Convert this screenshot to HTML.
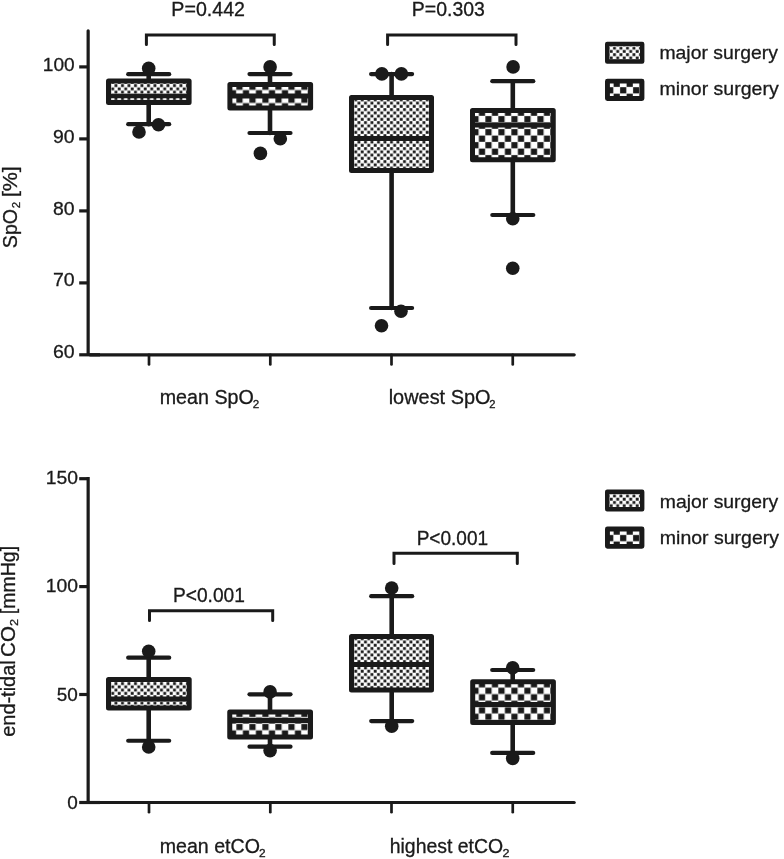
<!DOCTYPE html>
<html lang="en"><head><meta charset="utf-8"><title>Boxplots</title>
<style>html,body{margin:0;padding:0;background:#fff}svg{display:block}text{font-family:'Liberation Sans', Arial, Helvetica, sans-serif;fill:#1a1a1a;stroke:#1a1a1a;stroke-width:.3px}</style>
</head><body>
<svg width="784" height="859" viewBox="0 0 784 859">
<defs>
<pattern id="p1" patternUnits="userSpaceOnUse" x="114.350" y="84.000" width="6.5" height="6.5"><rect width="6.5" height="6.5" fill="#fff"/><rect x="0.19999999999999996" y="0.19999999999999996" width="2.85" height="2.85" fill="#1a1a1a"/><rect x="3.45" y="3.45" width="2.85" height="2.85" fill="#1a1a1a"/></pattern>
<pattern id="p2" patternUnits="userSpaceOnUse" x="236.250" y="83.500" width="13.0" height="13.0"><rect width="13.0" height="13.0" fill="#fff"/><rect x="0.1499999999999999" y="0.1499999999999999" width="6.2" height="6.2" fill="#1a1a1a"/><rect x="6.65" y="6.65" width="6.2" height="6.2" fill="#1a1a1a"/></pattern>
<pattern id="p3" patternUnits="userSpaceOnUse" x="357.345" y="101.475" width="6.5" height="6.5"><rect width="6.5" height="6.5" fill="#fff"/><rect x="0.19999999999999996" y="0.19999999999999996" width="2.85" height="2.85" fill="#1a1a1a"/><rect x="3.45" y="3.45" width="2.85" height="2.85" fill="#1a1a1a"/></pattern>
<pattern id="p4" patternUnits="userSpaceOnUse" x="485.250" y="128.950" width="13.0" height="13.0"><rect width="13.0" height="13.0" fill="#fff"/><rect x="0.1499999999999999" y="0.1499999999999999" width="6.2" height="6.2" fill="#1a1a1a"/><rect x="6.65" y="6.65" width="6.2" height="6.2" fill="#1a1a1a"/></pattern>
<pattern id="p5" patternUnits="userSpaceOnUse" x="612.850" y="46.550" width="6.5" height="6.5"><rect width="6.5" height="6.5" fill="#fff"/><rect x="0.19999999999999996" y="0.19999999999999996" width="2.85" height="2.85" fill="#1a1a1a"/><rect x="3.45" y="3.45" width="2.85" height="2.85" fill="#1a1a1a"/></pattern>
<pattern id="p6" patternUnits="userSpaceOnUse" x="619.950" y="87.050" width="13.0" height="13.0"><rect width="13.0" height="13.0" fill="#fff"/><rect x="0.1499999999999999" y="0.1499999999999999" width="6.2" height="6.2" fill="#1a1a1a"/><rect x="6.65" y="6.65" width="6.2" height="6.2" fill="#1a1a1a"/></pattern>
<pattern id="p7" patternUnits="userSpaceOnUse" x="114.350" y="681.975" width="6.5" height="6.5"><rect width="6.5" height="6.5" fill="#fff"/><rect x="0.19999999999999996" y="0.19999999999999996" width="2.85" height="2.85" fill="#1a1a1a"/><rect x="3.45" y="3.45" width="2.85" height="2.85" fill="#1a1a1a"/></pattern>
<pattern id="p8" patternUnits="userSpaceOnUse" x="236.250" y="710.750" width="13.0" height="13.0"><rect width="13.0" height="13.0" fill="#fff"/><rect x="0.1499999999999999" y="0.1499999999999999" width="6.2" height="6.2" fill="#1a1a1a"/><rect x="6.65" y="6.65" width="6.2" height="6.2" fill="#1a1a1a"/></pattern>
<pattern id="p9" patternUnits="userSpaceOnUse" x="357.345" y="640.375" width="6.5" height="6.5"><rect width="6.5" height="6.5" fill="#fff"/><rect x="0.19999999999999996" y="0.19999999999999996" width="2.85" height="2.85" fill="#1a1a1a"/><rect x="3.45" y="3.45" width="2.85" height="2.85" fill="#1a1a1a"/></pattern>
<pattern id="p10" patternUnits="userSpaceOnUse" x="485.250" y="687.550" width="13.0" height="13.0"><rect width="13.0" height="13.0" fill="#fff"/><rect x="0.1499999999999999" y="0.1499999999999999" width="6.2" height="6.2" fill="#1a1a1a"/><rect x="6.65" y="6.65" width="6.2" height="6.2" fill="#1a1a1a"/></pattern>
<pattern id="p11" patternUnits="userSpaceOnUse" x="612.850" y="494.350" width="6.5" height="6.5"><rect width="6.5" height="6.5" fill="#fff"/><rect x="0.19999999999999996" y="0.19999999999999996" width="2.85" height="2.85" fill="#1a1a1a"/><rect x="3.45" y="3.45" width="2.85" height="2.85" fill="#1a1a1a"/></pattern>
<pattern id="p12" patternUnits="userSpaceOnUse" x="619.950" y="534.850" width="13.0" height="13.0"><rect width="13.0" height="13.0" fill="#fff"/><rect x="0.1499999999999999" y="0.1499999999999999" width="6.2" height="6.2" fill="#1a1a1a"/><rect x="6.65" y="6.65" width="6.2" height="6.2" fill="#1a1a1a"/></pattern>
</defs>
<rect width="784" height="859" fill="#fff"/>
<g stroke="#1a1a1a" stroke-width="3.2" fill="none" stroke-linecap="butt">
<line x1="88.15" y1="30.8" x2="88.15" y2="353.4" stroke-linecap="round"/>
<line x1="79.2" y1="354.8" x2="100" y2="354.8"/>
<line x1="90" y1="354.8" x2="574.2" y2="354.8" stroke-linecap="round"/>
<line x1="79.2" y1="66.9" x2="88.15" y2="66.9"/>
<line x1="79.2" y1="138.9" x2="88.15" y2="138.9"/>
<line x1="79.2" y1="210.9" x2="88.15" y2="210.9"/>
<line x1="79.2" y1="282.9" x2="88.15" y2="282.9"/>
<line x1="149" y1="354.8" x2="149" y2="364.4" stroke-width="2.7" stroke-linecap="round"/>
<line x1="270.3" y1="354.8" x2="270.3" y2="364.4" stroke-width="2.7" stroke-linecap="round"/>
<line x1="391.5" y1="354.8" x2="391.5" y2="364.4" stroke-width="2.7" stroke-linecap="round"/>
<line x1="512.75" y1="354.8" x2="512.75" y2="364.4" stroke-width="2.7" stroke-linecap="round"/>
</g>
<text x="42.77" y="71.2" font-size="19" textLength="31.86" lengthAdjust="spacingAndGlyphs">100</text>
<text x="53.03" y="142.85000000000002" font-size="19" textLength="21.60" lengthAdjust="spacingAndGlyphs">90</text>
<text x="53.03" y="214.5" font-size="19" textLength="21.60" lengthAdjust="spacingAndGlyphs">80</text>
<text x="52.92" y="286.15000000000003" font-size="19" textLength="21.70" lengthAdjust="spacingAndGlyphs">70</text>
<text x="52.92" y="357.8" font-size="19" textLength="21.70" lengthAdjust="spacingAndGlyphs">60</text>
<g stroke="#1a1a1a" stroke-linecap="round" fill="none">
<line x1="148.7" y1="74.2" x2="148.7" y2="80.6" stroke-width="4.6"/>
<line x1="148.7" y1="103.1" x2="148.7" y2="124.2" stroke-width="4.6"/>
<line x1="128.2" y1="74.2" x2="169.2" y2="74.2" stroke-width="4.2"/>
<line x1="128.2" y1="124.2" x2="169.2" y2="124.2" stroke-width="4.2"/>
</g>
<rect x="108.5" y="81.1" width="80.60" height="21.50" fill="url(#p1)" stroke="#1a1a1a" stroke-width="5" stroke-linejoin="round"/>
<line x1="108.5" y1="95.95" x2="189.1" y2="95.95" stroke="#1a1a1a" stroke-width="4.4"/>
<circle cx="148.7" cy="68.4" r="6.8" fill="#1a1a1a"/>
<circle cx="139" cy="132" r="6.8" fill="#1a1a1a"/>
<circle cx="158.5" cy="124.7" r="6.8" fill="#1a1a1a"/>
<g stroke="#1a1a1a" stroke-linecap="round" fill="none">
<line x1="270" y1="74.1" x2="270" y2="83.9" stroke-width="4.6"/>
<line x1="270" y1="108.6" x2="270" y2="133" stroke-width="4.6"/>
<line x1="249.5" y1="74.1" x2="290.5" y2="74.1" stroke-width="4.2"/>
<line x1="249.5" y1="133" x2="290.5" y2="133" stroke-width="4.2"/>
</g>
<rect x="229.9" y="84.4" width="80.70" height="23.70" fill="url(#p2)" stroke="#1a1a1a" stroke-width="5" stroke-linejoin="round"/>
<line x1="229.9" y1="96.0" x2="310.6" y2="96.0" stroke="#1a1a1a" stroke-width="5.0"/>
<circle cx="270.1" cy="66.9" r="6.8" fill="#1a1a1a"/>
<circle cx="280.3" cy="138.75" r="6.8" fill="#1a1a1a"/>
<circle cx="260.4" cy="153.4" r="6.8" fill="#1a1a1a"/>
<g stroke="#1a1a1a" stroke-linecap="round" fill="none">
<line x1="391.6" y1="74.1" x2="391.6" y2="97" stroke-width="4.6"/>
<line x1="391.6" y1="171" x2="391.6" y2="308" stroke-width="4.6"/>
<line x1="371.1" y1="74.1" x2="412.1" y2="74.1" stroke-width="4.2"/>
<line x1="371.1" y1="308" x2="412.1" y2="308" stroke-width="4.2"/>
</g>
<rect x="351.5" y="97.5" width="80.00" height="73.00" fill="url(#p3)" stroke="#1a1a1a" stroke-width="5" stroke-linejoin="round"/>
<line x1="351.5" y1="138.5" x2="431.5" y2="138.5" stroke="#1a1a1a" stroke-width="5.0"/>
<circle cx="381.9" cy="73.9" r="6.8" fill="#1a1a1a"/>
<circle cx="401.4" cy="73.9" r="6.8" fill="#1a1a1a"/>
<circle cx="401" cy="311.25" r="6.8" fill="#1a1a1a"/>
<circle cx="381.5" cy="325.75" r="6.8" fill="#1a1a1a"/>
<g stroke="#1a1a1a" stroke-linecap="round" fill="none">
<line x1="512.8" y1="81.2" x2="512.8" y2="110" stroke-width="4.6"/>
<line x1="512.8" y1="160.3" x2="512.8" y2="215" stroke-width="4.6"/>
<line x1="492.29999999999995" y1="81.2" x2="533.3" y2="81.2" stroke-width="4.2"/>
<line x1="492.29999999999995" y1="215" x2="533.3" y2="215" stroke-width="4.2"/>
</g>
<rect x="472.5" y="110.5" width="80.75" height="49.30" fill="url(#p4)" stroke="#1a1a1a" stroke-width="5" stroke-linejoin="round"/>
<line x1="472.5" y1="125" x2="553.25" y2="125" stroke="#1a1a1a" stroke-width="5.0"/>
<circle cx="513.1" cy="66.9" r="6.8" fill="#1a1a1a"/>
<circle cx="512.75" cy="218.75" r="6.8" fill="#1a1a1a"/>
<circle cx="512.75" cy="268.25" r="6.8" fill="#1a1a1a"/>
<polyline points="146.4,44.5 146.4,35.1 274.25,35.1 274.25,44.5" fill="none" stroke="#1a1a1a" stroke-width="3" stroke-linecap="round" stroke-linejoin="miter"/>
<polyline points="387.6,44.5 387.6,35.1 516,35.1 516,44.5" fill="none" stroke="#1a1a1a" stroke-width="3" stroke-linecap="round" stroke-linejoin="miter"/>
<text x="171.38" y="16.2" font-size="19.3" textLength="73.57" lengthAdjust="spacingAndGlyphs">P=0.442</text>
<text x="411.84" y="16.2" font-size="19.3" textLength="73.00" lengthAdjust="spacingAndGlyphs">P=0.303</text>
<text><tspan x="159.72" y="403.9" font-size="19.3" textLength="94.07" lengthAdjust="spacingAndGlyphs">mean SpO</tspan><tspan x="252.82" y="408" font-size="11.2" textLength="6.48" lengthAdjust="spacingAndGlyphs">2</tspan></text>
<text><tspan x="388.71" y="403.9" font-size="19.3" textLength="101.76" lengthAdjust="spacingAndGlyphs">lowest SpO</tspan><tspan x="489.24" y="408" font-size="11.2" textLength="6.23" lengthAdjust="spacingAndGlyphs">2</tspan></text>
<text transform="translate(17.3,0) rotate(-90)"><tspan x="-248.18" y="0.0" font-size="19.5" textLength="39.18" lengthAdjust="spacingAndGlyphs">SpO</tspan><tspan x="-208.17" y="3.0" font-size="11.2" textLength="6.36" lengthAdjust="spacingAndGlyphs">2</tspan> <tspan x="-197.10" y="0.0" font-size="19.5" textLength="30.90" lengthAdjust="spacingAndGlyphs">[%]</tspan></text>
<rect x="607.2" y="43.900000000000006" width="35.0" height="17.6" fill="url(#p5)" stroke="#1a1a1a" stroke-width="4.4" stroke-linejoin="round"/>
<rect x="607.45" y="81.15" width="34.5" height="17.4" fill="url(#p6)" stroke="#1a1a1a" stroke-width="4.9" stroke-linejoin="round"/>
<text x="659.44" y="58.800000000000004" font-size="19" textLength="118.42" lengthAdjust="spacingAndGlyphs">major surgery</text>
<text x="659.43" y="95.0" font-size="19" textLength="119.23" lengthAdjust="spacingAndGlyphs">minor surgery</text>
<g stroke="#1a1a1a" stroke-width="3.2" fill="none" stroke-linecap="butt">
<line x1="88.15" y1="477.1" x2="88.15" y2="804"/>
<line x1="79.2" y1="802.5" x2="100" y2="802.5"/>
<line x1="90" y1="802.5" x2="574.2" y2="802.5" stroke-linecap="round"/>
<line x1="79.2" y1="478.7" x2="88.15" y2="478.7"/>
<line x1="79.2" y1="586.6" x2="88.15" y2="586.6"/>
<line x1="79.2" y1="694.5" x2="88.15" y2="694.5"/>
<line x1="149" y1="802.5" x2="149" y2="812.2" stroke-width="2.7" stroke-linecap="round"/>
<line x1="270.3" y1="802.5" x2="270.3" y2="812.2" stroke-width="2.7" stroke-linecap="round"/>
<line x1="391.5" y1="802.5" x2="391.5" y2="812.2" stroke-width="2.7" stroke-linecap="round"/>
<line x1="512.75" y1="802.5" x2="512.75" y2="812.2" stroke-width="2.7" stroke-linecap="round"/>
</g>
<text x="45.70" y="484.2" font-size="19" textLength="32.19" lengthAdjust="spacingAndGlyphs">150</text>
<text x="45.70" y="592.1999999999999" font-size="19" textLength="32.19" lengthAdjust="spacingAndGlyphs">100</text>
<text x="56.79" y="700.6" font-size="19" textLength="21.06" lengthAdjust="spacingAndGlyphs">50</text>
<text x="67.29" y="808.5" font-size="19" textLength="10.54" lengthAdjust="spacingAndGlyphs">0</text>
<g stroke="#1a1a1a" stroke-linecap="round" fill="none">
<line x1="148.7" y1="657.7" x2="148.7" y2="679" stroke-width="4.6"/>
<line x1="148.7" y1="708.6" x2="148.7" y2="740.75" stroke-width="4.6"/>
<line x1="128.2" y1="657.7" x2="169.2" y2="657.7" stroke-width="4.2"/>
<line x1="128.2" y1="740.75" x2="169.2" y2="740.75" stroke-width="4.2"/>
</g>
<rect x="108.5" y="679.5" width="80.70" height="28.60" fill="url(#p7)" stroke="#1a1a1a" stroke-width="5" stroke-linejoin="round"/>
<line x1="108.5" y1="699" x2="189.2" y2="699" stroke="#1a1a1a" stroke-width="5.0"/>
<circle cx="148.7" cy="651.2" r="6.8" fill="#1a1a1a"/>
<circle cx="148.7" cy="747" r="6.8" fill="#1a1a1a"/>
<g stroke="#1a1a1a" stroke-linecap="round" fill="none">
<line x1="270" y1="694.3" x2="270" y2="711.5" stroke-width="4.6"/>
<line x1="270" y1="737.5" x2="270" y2="746.7" stroke-width="4.6"/>
<line x1="249.5" y1="694.3" x2="290.5" y2="694.3" stroke-width="4.2"/>
<line x1="249.5" y1="746.7" x2="290.5" y2="746.7" stroke-width="4.2"/>
</g>
<rect x="229.75" y="712.0" width="80.75" height="25.00" fill="url(#p8)" stroke="#1a1a1a" stroke-width="5" stroke-linejoin="round"/>
<line x1="229.75" y1="720.5" x2="310.5" y2="720.5" stroke="#1a1a1a" stroke-width="5.0"/>
<circle cx="270.1" cy="691.9" r="6.8" fill="#1a1a1a"/>
<circle cx="270.1" cy="750.6" r="6.8" fill="#1a1a1a"/>
<g stroke="#1a1a1a" stroke-linecap="round" fill="none">
<line x1="391.7" y1="596.2" x2="391.7" y2="636" stroke-width="4.6"/>
<line x1="391.7" y1="690.5" x2="391.7" y2="721.1" stroke-width="4.6"/>
<line x1="371.2" y1="596.2" x2="412.2" y2="596.2" stroke-width="4.2"/>
<line x1="371.2" y1="721.1" x2="412.2" y2="721.1" stroke-width="4.2"/>
</g>
<rect x="351.5" y="636.5" width="80.00" height="53.50" fill="url(#p9)" stroke="#1a1a1a" stroke-width="5" stroke-linejoin="round"/>
<line x1="351.5" y1="664.6" x2="431.5" y2="664.6" stroke="#1a1a1a" stroke-width="5.0"/>
<circle cx="391.7" cy="588" r="6.8" fill="#1a1a1a"/>
<circle cx="391.7" cy="726.2" r="6.8" fill="#1a1a1a"/>
<g stroke="#1a1a1a" stroke-linecap="round" fill="none">
<line x1="512.7" y1="670" x2="512.7" y2="681.2" stroke-width="4.6"/>
<line x1="512.7" y1="723" x2="512.7" y2="752.9" stroke-width="4.6"/>
<line x1="492.20000000000005" y1="670" x2="533.2" y2="670" stroke-width="4.2"/>
<line x1="492.20000000000005" y1="752.9" x2="533.2" y2="752.9" stroke-width="4.2"/>
</g>
<rect x="472.7" y="681.7" width="80.70" height="40.80" fill="url(#p10)" stroke="#1a1a1a" stroke-width="5" stroke-linejoin="round"/>
<line x1="472.7" y1="704.6" x2="553.4" y2="704.6" stroke="#1a1a1a" stroke-width="5.0"/>
<circle cx="512.7" cy="667.8" r="6.8" fill="#1a1a1a"/>
<circle cx="512.7" cy="758.4" r="6.8" fill="#1a1a1a"/>
<polyline points="149.5,620.4 149.5,610.8 272.7,610.8 272.7,620.4" fill="none" stroke="#1a1a1a" stroke-width="3" stroke-linecap="round" stroke-linejoin="miter"/>
<polyline points="394,563.6 394,553.2 517.3,553.2 517.3,563.6" fill="none" stroke="#1a1a1a" stroke-width="3" stroke-linecap="round" stroke-linejoin="miter"/>
<text x="172.97" y="601.5" font-size="19.3" textLength="71.96" lengthAdjust="spacingAndGlyphs">P&lt;0.001</text>
<text x="416.68" y="545.1" font-size="19.3" textLength="71.44" lengthAdjust="spacingAndGlyphs">P&lt;0.001</text>
<text><tspan x="159.73" y="853.3" font-size="19.3" textLength="100.22" lengthAdjust="spacingAndGlyphs">mean etCO</tspan><tspan x="258.91" y="857.4" font-size="11.2" textLength="6.60" lengthAdjust="spacingAndGlyphs">2</tspan></text>
<text><tspan x="389.74" y="853.3" font-size="19.3" textLength="113.46" lengthAdjust="spacingAndGlyphs">highest etCO</tspan><tspan x="502.57" y="857.4" font-size="11.2" textLength="6.97" lengthAdjust="spacingAndGlyphs">2</tspan></text>
<text transform="translate(15.1,0) rotate(-90)"><tspan x="-736.80" y="0.0" font-size="19.5" textLength="76.52" lengthAdjust="spacingAndGlyphs">end-tidal</tspan> <tspan x="-656.92" y="0.0" font-size="19.5" textLength="30.75" lengthAdjust="spacingAndGlyphs">CO</tspan><tspan x="-626.14" y="2.8" font-size="11.2" textLength="7.09" lengthAdjust="spacingAndGlyphs">2</tspan> <tspan x="-614.16" y="0.0" font-size="19.5" textLength="68.23" lengthAdjust="spacingAndGlyphs">[mmHg]</tspan></text>
<rect x="607.2" y="491.7" width="35.0" height="17.6" fill="url(#p11)" stroke="#1a1a1a" stroke-width="4.4" stroke-linejoin="round"/>
<rect x="607.45" y="528.95" width="34.5" height="17.4" fill="url(#p12)" stroke="#1a1a1a" stroke-width="4.9" stroke-linejoin="round"/>
<text x="659.84" y="507.5" font-size="19" textLength="118.42" lengthAdjust="spacingAndGlyphs">major surgery</text>
<text x="659.83" y="543.6999999999999" font-size="19" textLength="119.23" lengthAdjust="spacingAndGlyphs">minor surgery</text>
</svg></body></html>
